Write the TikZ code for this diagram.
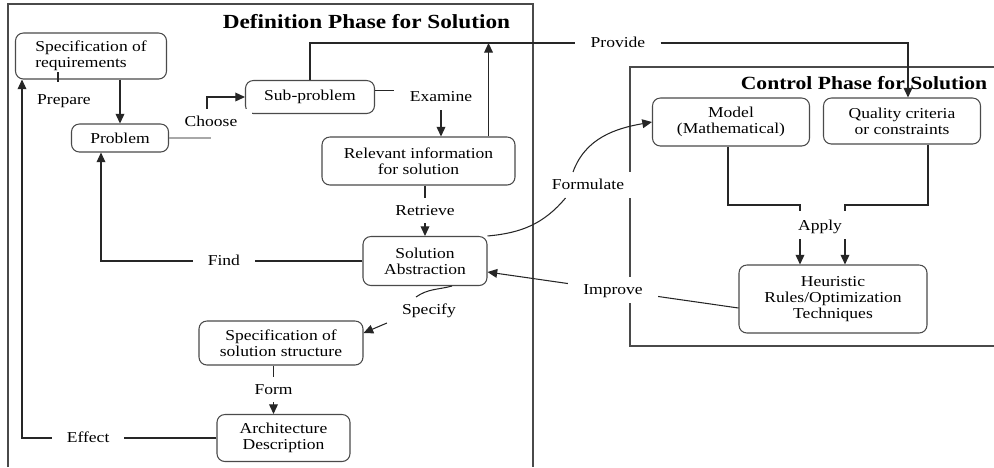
\documentclass[tikz,border=0pt]{standalone}
\usepackage{fontspec}
\setmainfont{Liberation Serif}[FakeStretch=1.16]
\usetikzlibrary{arrows.meta}
\definecolor{ink}{HTML}{262626}
\definecolor{rim}{HTML}{4A4A4A}
\definecolor{faint}{HTML}{A8A8A8}

\begin{document}
\begin{tikzpicture}[font=\fontsize{8.6}{9}\selectfont,>={Triangle[width=5pt,length=5.5pt]},
  box/.style={draw=rim,line width=0.6pt,rounded corners=4.5pt,align=center,inner sep=0pt},
  lbl/.style={fill=white,inner xsep=0.3cm,inner ysep=0.1cm,text height=1.5ex,text depth=0.4ex},
  link/.style={draw=ink,line width=0.6pt},
  frame/.style={draw=rim,line width=0.9pt}]
  \useasboundingbox (0,0) rectangle (19.88,-9.34);

  % phase frames
  \draw[frame] (0.16,-9.34) |- (10.66,-0.08) -- (10.66,-9.34);
  \draw[frame] (19.88,-1.34) -| (12.60,-6.92) -- (19.88,-6.92);
  \node[font=\bfseries\fontsize{11.4}{13}\selectfont] (deftitle) at (7.33,-0.44) {Definition Phase for Solution};
  \node[font=\bfseries\fontsize{10.6}{13}\selectfont] (ctltitle) at (17.28,-1.66) {Control Phase for Solution};

  % definition phase
  \node[box,minimum width=3.02cm,minimum height=0.92cm,align=left] (req) at (1.82,-1.12) {Specification of\\requirements};
  \node[box,minimum width=1.94cm,minimum height=0.56cm] (prob) at (2.40,-2.76) {Problem};
  \node[box,minimum width=2.58cm,minimum height=0.66cm] (sub) at (6.20,-1.94) {Sub-problem};
  \node[box,minimum width=3.86cm,minimum height=0.96cm] (rel) at (8.37,-3.22) {Relevant information\\for solution};
  \node[box,minimum width=2.48cm,minimum height=0.98cm] (abs) at (8.50,-5.22) {Solution\\Abstraction};
  \node[box,minimum width=3.28cm,minimum height=0.88cm] (ssol) at (5.62,-6.86) {Specification of\\solution structure};
  \node[box,minimum width=2.66cm,minimum height=0.94cm] (arch) at (5.67,-8.76) {Architecture\\Description};

  % control phase
  \node[box,minimum width=3.14cm,minimum height=0.96cm] (model) at (14.62,-2.44) {Model\\(Mathematical)};
  \node[box,minimum width=3.14cm,minimum height=0.92cm] (qual) at (18.04,-2.42) {Quality criteria\\or constraints};
  \node[box,minimum width=3.76cm,minimum height=1.36cm] (heur) at (16.66,-5.98) {Heuristic\\Rules/Optimization\\Techniques};

  \node[lbl] (prep) at (1.28,-2.0) {Prepare};
  \node[lbl] (choose) at (4.22,-2.44) {Choose};
  \node[lbl] (exam) at (8.82,-1.94) {Examine};
  \node[lbl] (prov) at (12.36,-0.86) {Provide};
  \node[lbl] (formul) at (11.76,-3.70) {Formulate};
  \node[lbl] (apply) at (16.40,-4.52) {Apply};
  \node[lbl] (spec) at (8.58,-6.20) {Specify};

  \draw[link,->] (req.south -| prob.north) -- (prob.north);
  \draw[link] ([xshift=-0.66cm,yshift=-0.04cm]req.south) -- ++(0,0.2);
  \draw[faint,line width=0.6pt] (prob.east) -- (prob.east -| choose);
  \draw[link,->] ([xshift=-0.08cm]choose.north) |- (sub.west);
  \draw[link] ([yshift=0.13cm]sub.east) -- ([yshift=0.13cm]sub.east -| exam.west);
  \draw[link,->] (exam.south) -- (exam.south |- rel.north);
  \draw[link] (sub.north) |- (prov.west);
  \draw[link,->] ([xshift=-0.54cm]rel.north east) -- ([xshift=-0.54cm]rel.north east |- prov.west);
  \draw[link,->] (prov.east) -| ([xshift=0.12cm]qual.north);
  \draw[link,->] (rel.south -| abs.north) -- node[lbl] (retr) {Retrieve} (abs.north);
  \draw[link,->] (abs.west) -- node[lbl,pos=0.53] (find) {Find} ([xshift=-0.38cm]prob.south |- abs.west) -- ([xshift=-0.38cm]prob.south);
  \draw[link] ([xshift=0.54cm]abs.south) to[out=195,in=35] ([xshift=-0.26cm]spec.north);
  \draw[link,->] (spec.south west) -- ([yshift=0.2cm]ssol.east);
  \draw[link,->] ([xshift=-0.2cm]arch.north |- ssol.south) -- node[lbl] (form) {Form} ([xshift=-0.2cm]arch.north);
  \draw[link,->] (arch.west) -- node[lbl,pos=0.66] (effect) {Effect} ([xshift=-1.38cm]req.south |- arch.west) -- ([xshift=-1.38cm]req.south);

  \draw[link] (abs.north east) to[out=5,in=-130] ([xshift=-0.45cm]formul.south);
  \draw[link,->] ([xshift=-0.3cm]formul.north) to[out=70,in=190] (model.west);

  \coordinate (ml) at (16.0,-4.22);
  \coordinate (mr) at (16.9,-4.22);
  \draw[link] ([xshift=-0.06cm]model.south) |- ([yshift=0.12cm]ml) -- (ml);
  \draw[link] ([xshift=0.52cm]qual.south) |- ([yshift=0.12cm]mr) -- (mr);
  \draw[link,->] (apply.south -| ml) -- (heur.north -| ml);
  \draw[link,->] (apply.south -| mr) -- (heur.north -| mr);
  \draw[link,->] ([yshift=-0.18cm]heur.west) -- node[lbl] (impr) {Improve} ([yshift=-0.22cm]abs.east);
\end{tikzpicture}
\end{document}
